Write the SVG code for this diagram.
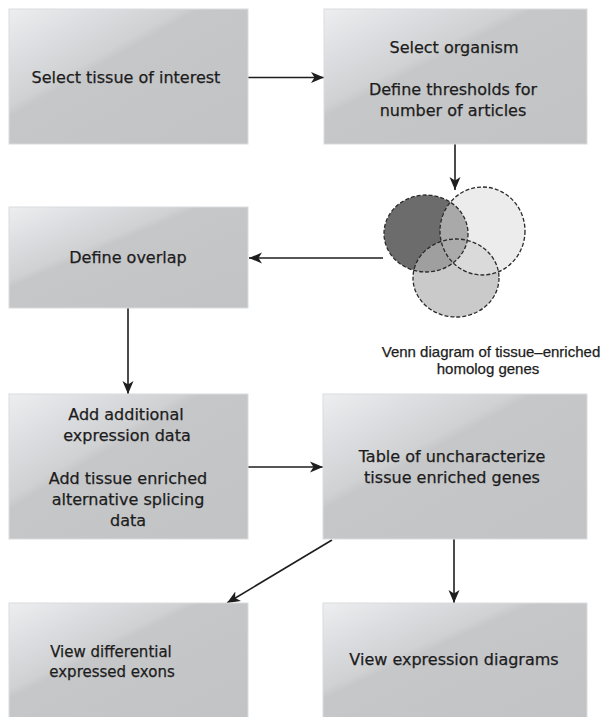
<svg xmlns="http://www.w3.org/2000/svg" width="604" height="717" viewBox="0 0 604 717">
<defs>
  <linearGradient id="gloss" x1="0" y1="0" x2="1" y2="1">
    <stop offset="0" stop-color="#eceef0"/>
    <stop offset="0.2" stop-color="#dcdde0"/>
    <stop offset="0.36" stop-color="#d0d1d3"/>
    <stop offset="0.40" stop-color="#c6c7c9"/>
    <stop offset="1" stop-color="#c2c3c5"/>
  </linearGradient>
  <marker id="arr" markerUnits="userSpaceOnUse" markerWidth="14" markerHeight="12" refX="13" refY="6" orient="auto">
    <path d="M0,0.5 L13,6 L0,11.5 L3.5,6 Z" fill="#1e1e1e"/>
  </marker>
  <clipPath id="cDark"><ellipse cx="426" cy="233.5" rx="42" ry="38.5"/></clipPath>
  <clipPath id="cLight"><ellipse cx="482.5" cy="231" rx="42.5" ry="44"/></clipPath>
  <clipPath id="cBottom"><ellipse cx="456" cy="278" rx="43" ry="39"/></clipPath>
</defs>
<style>
  .box { fill: url(#gloss); stroke: #dadbdd; stroke-width: 1; }
  .lbl { font-family: "DejaVu Sans", "Liberation Sans", sans-serif; font-size: 16px; fill: #1c1c1c; stroke: #1c1c1c; stroke-width: 0.25px; text-anchor: middle; }
  .vl { font-family: "Liberation Sans", "DejaVu Sans", sans-serif; font-size: 15px; }
  .conn { stroke: #1e1e1e; stroke-width: 1.6; fill: none; marker-end: url(#arr); }
  .venn { fill: none; stroke: #2a2a2a; stroke-width: 1.3; stroke-dasharray: 4 2; }
</style>
<rect width="604" height="717" fill="#ffffff"/>

<g id="connectors">
  <line class="conn" x1="248" y1="77.5" x2="324" y2="77.5"/>
  <line class="conn" x1="455" y1="144" x2="455" y2="190"/>
  <line class="conn" x1="383" y1="258" x2="249" y2="258"/>
  <line class="conn" x1="128" y1="308" x2="128" y2="394"/>
  <line class="conn" x1="248" y1="467" x2="323" y2="467"/>
  <line class="conn" x1="332" y1="540" x2="227" y2="603"/>
  <line class="conn" x1="454" y1="539" x2="454" y2="603"/>
</g>

<g id="n-select-tissue">
  <rect class="box" x="9" y="9" width="239" height="135"/>
  <text class="lbl" x="126" y="83">Select tissue of interest</text>
</g>

<g id="n-select-organism">
  <rect class="box" x="324" y="9" width="263" height="135"/>
  <text class="lbl" x="454" y="53">Select organism</text>
  <text class="lbl" x="453" y="95">Define thresholds for</text>
  <text class="lbl" x="453" y="116">number of articles</text>
</g>

<g id="n-venn">
  <ellipse cx="426" cy="233.5" rx="42" ry="38.5" fill="#6c6c6c"/>
  <ellipse cx="482.5" cy="231" rx="42.5" ry="44" fill="#ececec"/>
  <ellipse cx="456" cy="278" rx="43" ry="39" fill="#cacaca"/>
  <ellipse cx="482.5" cy="231" rx="42.5" ry="44" fill="#a9a9a9" clip-path="url(#cDark)"/>
  <ellipse cx="456" cy="278" rx="43" ry="39" fill="#9f9f9f" clip-path="url(#cDark)"/>
  <ellipse cx="456" cy="278" rx="43" ry="39" fill="#dadada" clip-path="url(#cLight)"/>
  <g clip-path="url(#cDark)">
    <ellipse cx="456" cy="278" rx="43" ry="39" fill="#ababab" clip-path="url(#cLight)"/>
  </g>
  <ellipse class="venn" cx="426" cy="233.5" rx="42" ry="38.5"/>
  <ellipse class="venn" cx="482.5" cy="231" rx="42.5" ry="44"/>
  <ellipse class="venn" cx="456" cy="278" rx="43" ry="39"/>
  <text class="lbl vl" x="491" y="357">Venn diagram of tissue–enriched</text>
  <text class="lbl vl" x="488" y="374">homolog genes</text>
</g>

<g id="n-define-overlap">
  <rect class="box" x="9" y="207" width="239" height="101"/>
  <text class="lbl" x="128" y="263">Define overlap</text>
</g>

<g id="n-add-data">
  <rect class="box" x="9" y="394" width="239" height="145"/>
  <text class="lbl" x="126" y="420">Add additional</text>
  <text class="lbl" x="127" y="441">expression data</text>
  <text class="lbl" x="128" y="484">Add tissue enriched</text>
  <text class="lbl" x="128" y="505">alternative splicing</text>
  <text class="lbl" x="128" y="526">data</text>
</g>

<g id="n-table">
  <rect class="box" x="323" y="394" width="264" height="145"/>
  <text class="lbl" x="452" y="462">Table of uncharacterize</text>
  <text class="lbl" x="452" y="483">tissue enriched genes</text>
</g>

<g id="n-view-exons">
  <rect class="box" x="9" y="603" width="239" height="120"/>
  <text class="lbl" x="111" y="657" style="font-size:15px">View differential</text>
  <text class="lbl" x="112" y="677" style="font-size:15px">expressed exons</text>
</g>

<g id="n-view-diagrams">
  <rect class="box" x="323" y="603" width="264" height="120"/>
  <text class="lbl" x="454" y="665">View expression diagrams</text>
</g>
</svg>
